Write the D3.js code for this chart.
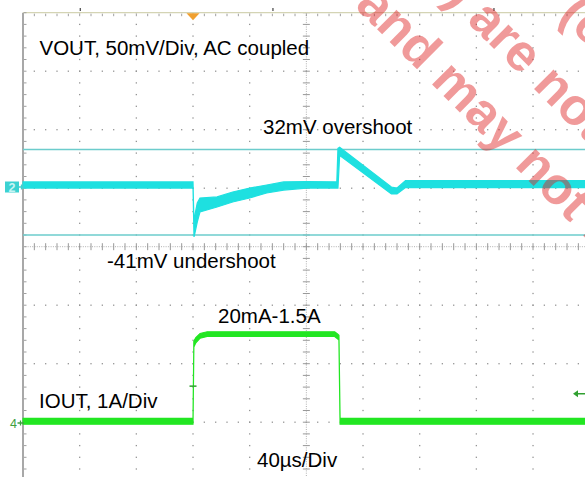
<!DOCTYPE html>
<html><head><meta charset="utf-8">
<script src="https://cdn.jsdelivr.net/npm/d3@7"></script>
<style>html,body{margin:0;padding:0;background:#fff;overflow:hidden}svg{display:block}</style>
</head><body><svg id="c" width="585" height="477"></svg>
<script>
// ---------- data ----------
// VOUT channel (mV, AC coupled), envelope of the noisy trace
const voutTime = [-120, 0, 0.7, 1.5, 3, 4.9, 17, 28, 40, 52, 64, 80, 101.5, 102.3, 103.5, 106, 140, 144, 150, 280];
const voutHigh = [4.3, 4.3, -32.5, -23, -13.7, -9.4, -8.5, -4.3, -0.9, 1.7, 4.3, 4.7, 4.3, 33, 34, 31.6, 0, -0.9, 5.5, 5.5];
const voutLow  = [-0.9, -0.9, -42.7, -38.5, -30, -21.4, -17.1, -12.8, -9.4, -5.1, -2.6, -0.9, -0.9, -0.9, 27, 24.8, -6, -6, -0.5, -0.5];
// IOUT channel (A)
const ioutTime = [-120, 0, 0.6, 2, 5, 10, 100, 102, 103, 103.8, 280];
const ioutHigh = [0.08, 0.08, 1.40, 1.46, 1.53, 1.56, 1.56, 1.52, 1.50, 0.08, 0.08];
const ioutLow  = [-0.02, -0.02, 1.30, 1.37, 1.45, 1.48, 1.48, 1.44, 1.42, -0.02, -0.02];
// cursor levels (mV)
const cursorLevels = [32, -41];
// annotation texts
const labels = [
  {text: "VOUT, 50mV/Div, AC coupled", x: 39.5, y: 55},
  {text: "32mV overshoot", x: 263, y: 134},
  {text: "-41mV undershoot", x: 107, y: 268},
  {text: "20mA-1.5A", x: 218, y: 323},
  {text: "IOUT, 1A/Div", x: 39, y: 408},
  {text: "40\u00b5s/Div", x: 257, y: 467}
];
const watermark = [
  {text: "(estimates)", x: 558, y: 16},
  {text: "are not final", pre: "ed)", x: 466, y: 21},
  {text: "and may not be", x: 354, y: 6.4}
];

// ---------- scales ----------
const svg = d3.select("#c");
const L = 23, T = 12.7, DX = 56.67, DY = 58.5;
const xDiv = d3.scaleLinear().domain([0, 10]).range([L, L + 10 * DX]);
const yDiv = d3.scaleLinear().domain([4, -4]).range([T, T + 8 * DY]);
const x = d3.scaleLinear().domain([-120, 280]).range([L, L + 10 * DX]);   // µs, 40 µs/div
const yV = d3.scaleLinear().domain([0, 50]).range([187, 187 - DY]);       // 50 mV/div
const yI = d3.scaleLinear().domain([0, 1]).range([423, 423 - DY]);        // 1 A/div

const W = 585, H = 477;
const g = svg.append("g");

// ---------- grid ----------
const minorX = d3.range(0, 10.001, 0.2);
const minorY = d3.range(-4, 4.001, 0.2);
const dotCol = "#949494";
[1,2,3,4,6,7,8,9].forEach(i => {
  g.selectAll(null).data(minorY).enter().append("rect")
    .attr("x", xDiv(i) - 0.65).attr("y", d => yDiv(d) - 0.65)
    .attr("width", 1.3).attr("height", 1.3).attr("fill", dotCol);
});
[-3,-2,-1,1,2,3].forEach(k => {
  g.selectAll(null).data(minorX).enter().append("rect")
    .attr("x", d => xDiv(d) - 0.65).attr("y", yDiv(k) - 0.65)
    .attr("width", 1.3).attr("height", 1.3).attr("fill", dotCol);
});
// center lines (fine dotted + tick crosses)
g.append("line").attr("x1", L).attr("x2", W).attr("y1", yDiv(0)).attr("y2", yDiv(0))
  .attr("stroke", "#b0b0b0").attr("stroke-width", 1).attr("stroke-dasharray", "1,1.3");
g.append("line").attr("y1", T).attr("y2", H).attr("x1", xDiv(5)).attr("x2", xDiv(5))
  .attr("stroke", "#b0b0b0").attr("stroke-width", 1).attr("stroke-dasharray", "1,1.3");
g.selectAll(null).data(minorX).enter().append("line")
  .attr("x1", d => xDiv(d)).attr("x2", d => xDiv(d))
  .attr("y1", yDiv(0) - 3.5).attr("y2", yDiv(0) + 3.5)
  .attr("stroke", "#999").attr("stroke-width", 1);
g.selectAll(null).data(minorY).enter().append("line")
  .attr("y1", d => yDiv(d)).attr("y2", d => yDiv(d))
  .attr("x1", xDiv(5) - 3.5).attr("x2", xDiv(5) + 3.5)
  .attr("stroke", "#999").attr("stroke-width", 1);
// top border + ticks
g.append("line").attr("x1", L).attr("x2", W).attr("y1", T).attr("y2", T)
  .attr("stroke", "#d4d4b4").attr("stroke-width", 1.2);
g.selectAll(null).data(minorX).enter().append("rect")
  .attr("x", d => xDiv(d) - 0.5).attr("y", T + 1).attr("width", 1).attr("height", 2.5).attr("fill", "#a0a0a0");
// left border + ticks
g.append("line").attr("x1", L).attr("x2", L).attr("y1", T).attr("y2", H)
  .attr("stroke", "#a8a8a8").attr("stroke-width", 2);
g.selectAll(null).data(minorY).enter().append("rect")
  .attr("x", L + 1).attr("y", d => yDiv(d) - 0.5).attr("width", 2.5).attr("height", 1).attr("fill", "#a0a0a0");
// small marks above top border
[1, 4.4, 8.3].forEach(v => g.append("rect").attr("x", xDiv(v)).attr("y", 8).attr("width", 1.2).attr("height", 3).attr("fill", "#444"));

// ---------- cursors ----------
g.selectAll(null).data(cursorLevels).enter().append("line")
  .attr("x1", L).attr("x2", W).attr("y1", d => yV(d)).attr("y2", d => yV(d))
  .attr("stroke", "#6ccccc").attr("stroke-width", 1.5);

// ---------- traces ----------
const voutData = voutTime.map((t, i) => ({t, hi: voutHigh[i], lo: voutLow[i]}));
const ioutData = ioutTime.map((t, i) => ({t, hi: ioutHigh[i], lo: ioutLow[i]}));
g.append("path").datum(voutData)
  .attr("d", d3.area().x(d => x(d.t)).y0(d => yV(d.lo)).y1(d => yV(d.hi)))
  .attr("fill", "#1ee0e0").attr("stroke", "#1ee0e0").attr("stroke-width", 1.2);
g.append("path").datum(ioutData)
  .attr("d", d3.area().x(d => x(d.t)).y0(d => yI(d.lo)).y1(d => yI(d.hi)))
  .attr("fill", "#22e622").attr("stroke", "#22e622").attr("stroke-width", 1.2);

// ---------- markers ----------
const tx = x(0);
g.append("path").attr("d", `M${tx-6.5},${T+0.5}L${tx+6.5},${T+0.5}L${tx},${T+7.5}Z`).attr("fill", "#f0a030");
// ch2 ground marker
g.append("rect").attr("x", 5).attr("y", yV(0) - 5.5).attr("width", 14).attr("height", 11).attr("fill", "#3cd2d2");
g.append("text").attr("x", 12).attr("y", yV(0) + 4.5).attr("text-anchor", "middle")
  .attr("font-family", "Liberation Sans, Arial, sans-serif").attr("font-size", 12.5).attr("font-weight", "bold")
  .attr("fill", "#c8f4f4").text("2");
g.append("path").attr("d", `M19,${yV(0)}H24M21.5,${yV(0)-2.5}V${yV(0)+2.5}`).attr("stroke", "#3cd2d2").attr("stroke-width", 1.3);
// ch4 ground marker
g.append("text").attr("x", 10).attr("y", yI(0) + 4.5).attr("font-family", "Liberation Sans, Arial, sans-serif")
  .attr("font-size", 12.5).attr("fill", "#40a040").text("4");
g.append("path").attr("d", `M17.5,${yI(0)}H24M20.5,${yI(0)-2.5}V${yI(0)+2.5}`).attr("stroke", "#40a040").attr("stroke-width", 1.3);
// trigger point tick on ch4
g.append("line").attr("x1", tx - 3.5).attr("x2", tx + 3.5).attr("y1", yI(0.63)).attr("y2", yI(0.63))
  .attr("stroke", "#30a030").attr("stroke-width", 1.5);
// trigger level arrow at right
const ty = yI(0.5);
g.append("path").attr("d", `M${W-12},${ty}L${W-7},${ty-3.5}L${W-7},${ty+3.5}Z`).attr("fill", "#30a030");
g.append("line").attr("x1", W - 8).attr("x2", W).attr("y1", ty).attr("y2", ty).attr("stroke", "#30a030").attr("stroke-width", 1.5);

// ---------- labels ----------
g.selectAll(null).data(labels).enter().append("text")
  .attr("x", d => d.x).attr("y", d => d.y)
  .attr("font-family", "Liberation Sans, Arial, sans-serif").attr("font-size", 20.5)
  .attr("fill", "#000").text(d => d.text);

// ---------- watermark ----------
const wm = g.selectAll(null).data(watermark).enter().append("g")
  .attr("transform", d => `translate(${d.x},${d.y}) rotate(45)`)
  .attr("font-family", "Liberation Sans, Arial, sans-serif").attr("font-size", 52).attr("font-weight", "bold")
  .attr("fill", "rgba(222,30,30,0.45)");
wm.append("text").attr("x", 0).attr("y", 0).text(d => d.text);
wm.filter(d => d.pre).append("text").attr("x", -14).attr("y", 0).attr("text-anchor", "end").text(d => d.pre);
</script></body></html>
